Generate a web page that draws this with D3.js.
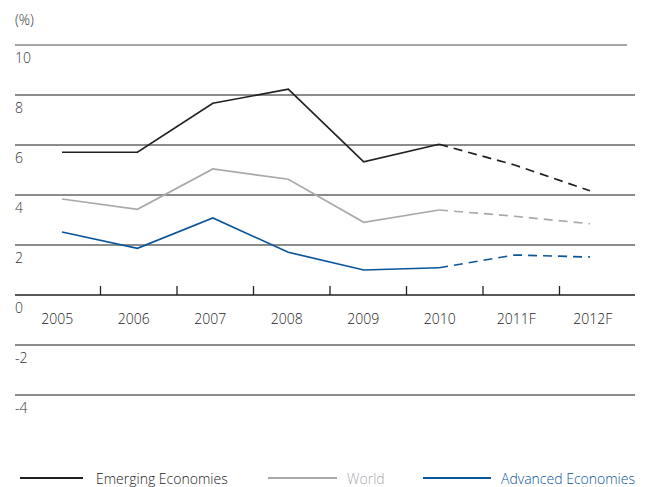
<!DOCTYPE html>
<html><head><meta charset="utf-8">
<script src="https://cdn.jsdelivr.net/npm/d3@7"></script>
<style>body{margin:0;background:#fff}svg{display:block}text{font-family:"Open Sans","Noto Sans",sans-serif;font-weight:300;}</style>
</head><body><svg id="c" width="646" height="487"></svg>
<script>
const categories = ["2005","2006","2007","2008","2009","2010","2011F","2012F"];
const yTicks = [10,8,6,4,2,0,-2,-4];
const emerging = [5.71,5.71,7.67,8.23,5.33,6.03,5.2,4.17];
const world = [3.84,3.43,5.04,4.63,2.91,3.4,3.15,2.85];
const advanced = [2.52,1.87,3.08,1.71,1.0,1.09,1.6,1.52];
const seriesNames = ["Emerging Economies","World","Advanced Economies"];
const seriesColors = ["#231f20","#a7a9ac","#0b559b"];
const actualCount = 6; // 2005-2010 solid, 2010-2012F dashed

const svg = d3.select("#c");
const y = d3.scaleLinear().domain([-4,10]).range([395,45]);
const xBand = d3.scaleBand().domain(categories).range([24,636]);
const xPt = d3.scalePoint().domain(categories).range([62,590]);

// gridlines
yTicks.forEach(t=>{
  if(t===0) return;
  svg.append("line").attr("x1",15).attr("x2",t===10?627:635)
    .attr("y1",y(t)).attr("y2",y(t))
    .attr("stroke",t===10?"#8a8a8a":"#666").attr("stroke-width",1.3);
});
// y labels
svg.append("g").selectAll("text").data(yTicks).join("text")
  .attr("x",15).attr("y",d=>y(d)+18).attr("font-size",14).attr("fill","#333")
  .text(d=>d);
svg.append("text").attr("x",15).attr("y",25).attr("font-size",14).attr("fill","#333").text("(%)");

// x axis baseline + ticks
const ax = svg.append("g").attr("transform",`translate(0,${y(0)})`)
  .call(d3.axisTop(xBand).tickSize(0).tickFormat(""));
ax.select(".domain").attr("d","M15,0H635").attr("stroke","#231f20").attr("stroke-width",1.3);
const tickPos = categories.slice(1).map(c=>xBand(c));
ax.selectAll("line.tk").data(tickPos).join("line").attr("class","tk")
  .attr("x1",d=>d).attr("x2",d=>d).attr("y1",0).attr("y2",-9)
  .attr("stroke","#231f20").attr("stroke-width",1.3);
svg.append("g").selectAll("text").data(categories).join("text")
  .attr("x",c=>xBand(c)+xBand.bandwidth()/2-5).attr("y",y(0)+29)
  .attr("text-anchor","middle").attr("font-size",14).attr("fill","#222").text(c=>c);

// lines
const line = d3.line().x(d=>xPt(d.c)).y(d=>y(d.v));
[emerging,world,advanced].forEach((vals,i)=>{
  const pts = categories.map((c,j)=>({c,v:vals[j]}));
  svg.append("path").attr("d",line(pts.slice(0,actualCount))).attr("fill","none")
    .attr("stroke",seriesColors[i]).attr("stroke-width",1.7);
  svg.append("path").attr("d",line(pts.slice(actualCount-1))).attr("fill","none")
    .attr("stroke",seriesColors[i]).attr("stroke-width",1.7).attr("stroke-dasharray","9,6");
});

// legend
const legend = [{x1:20,x2:83,tx:96},{x1:268,x2:337,tx:347},{x1:423,x2:491,tx:501}];
legend.forEach((l,i)=>{
  svg.append("line").attr("x1",l.x1).attr("x2",l.x2).attr("y1",478).attr("y2",478)
    .attr("stroke",seriesColors[i]).attr("stroke-width",2);
  svg.append("text").attr("x",l.tx).attr("y",484).attr("font-size",14)
    .attr("fill",i===0?"#222":seriesColors[i]).text(seriesNames[i]);
});
</script></body></html>
